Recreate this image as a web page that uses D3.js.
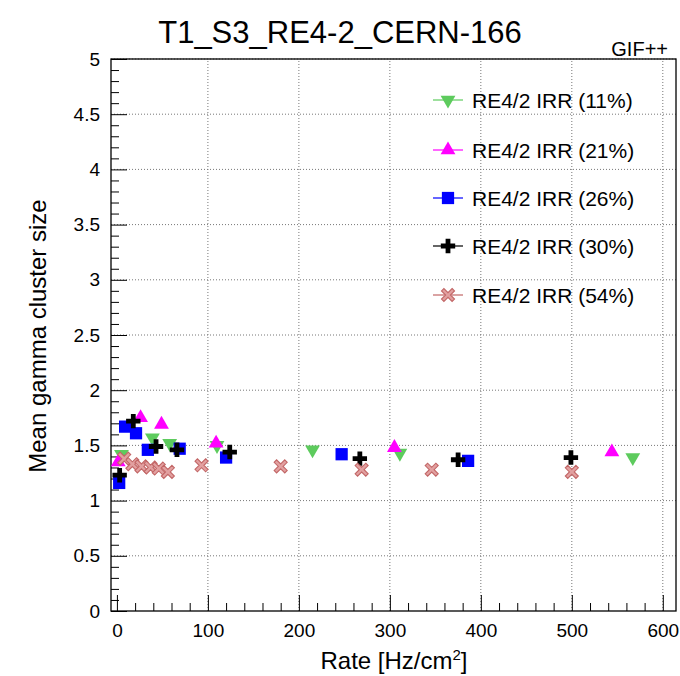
<!DOCTYPE html>
<html>
<head>
<meta charset="utf-8">
<script src="https://cdn.jsdelivr.net/npm/d3@7"></script>
<style>
  body { margin: 0; background: #fff; }
  svg text { font-family: "Liberation Sans", Arial, sans-serif; fill: #000; }
</style>
</head>
<body>
<div id="chart"></div>
<script>
// Valeurs : taux [Hz/cm2] et taille moyenne des clusters
let irr11X = [5, 39, 58, 110, 215, 311, 567];
let irr11Y = [1.42, 1.57, 1.52, 1.50, 1.46, 1.43, 1.39];

let irr21X = [1.5, 26, 49, 109, 305, 544];
let irr21Y = [1.35, 1.75, 1.69, 1.52, 1.48, 1.44];

let irr26X = [2.5, 9, 21, 34, 69, 120, 247, 386];
let irr26Y = [1.16, 1.67, 1.61, 1.46, 1.47, 1.39, 1.42, 1.36];

let irr30X = [3, 18, 43, 66, 124, 267, 375, 499];
let irr30Y = [1.23, 1.72, 1.49, 1.46, 1.44, 1.38, 1.37, 1.39];

let irr54X = [8, 17, 27, 37, 46, 56, 93, 180, 269, 346, 500];
let irr54Y = [1.38, 1.33, 1.31, 1.30, 1.29, 1.26, 1.32, 1.31, 1.28, 1.28, 1.26];

let seriesNames = ["RE4/2 IRR (11%)", "RE4/2 IRR (21%)", "RE4/2 IRR (26%)",
                   "RE4/2 IRR (30%)", "RE4/2 IRR (54%)"];

let xTicks = [0, 100, 200, 300, 400, 500, 600];
let yTicks = [0, 0.5, 1, 1.5, 2, 2.5, 3, 3.5, 4, 4.5, 5];

let series = [
  {name: seriesNames[0], xs: irr11X, ys: irr11Y, kind: "down", color: "#5dcb5d"},
  {name: seriesNames[1], xs: irr21X, ys: irr21Y, kind: "up",   color: "#ff00ff"},
  {name: seriesNames[2], xs: irr26X, ys: irr26Y, kind: "sq",   color: "#0000ff"},
  {name: seriesNames[3], xs: irr30X, ys: irr30Y, kind: "plus", color: "#000000"},
  {name: seriesNames[4], xs: irr54X, ys: irr54Y, kind: "x",    color: "#c26666"}
];

let W = 680, H = 676;
let margins = {left: 111, right: 4, top: 59, bottom: 65};

let svg = d3.select("#chart").append("svg")
            .attr("width", W)
            .attr("height", H);

let xScale = d3.scaleLinear().domain([-6.5, 614.5]).range([margins.left, W - margins.right]);
let yScale = d3.scaleLinear().domain([0, 5]).range([H - margins.bottom, margins.top]);

let x0 = margins.left, x1 = W - margins.right;
let y0 = H - margins.bottom, y1 = margins.top;

// Grille en pointillés
svg.append("g").selectAll("line").data(xTicks.slice(1)).enter().append("line")
   .attr("x1", d => xScale(d)).attr("x2", d => xScale(d))
   .attr("y1", y0).attr("y2", y1)
   .attr("stroke", "#777").attr("stroke-width", 1).attr("stroke-dasharray", "1,2");
svg.append("g").selectAll("line").data(yTicks.slice(1)).enter().append("line")
   .attr("x1", x0).attr("x2", x1)
   .attr("y1", d => yScale(d)).attr("y2", d => yScale(d))
   .attr("stroke", "#777").attr("stroke-width", 1).attr("stroke-dasharray", "1,2");

// Axes (style ROOT : ticks vers l'intérieur)
let xAxis = d3.axisBottom(xScale).tickValues(d3.range(0, 601, 20))
              .tickSize(-8).tickFormat(d => xTicks.includes(d) ? d : "").tickPadding(12);
let gx = svg.append("g").attr("transform", `translate(0,${y0})`).call(xAxis);
gx.select(".domain").remove();
gx.selectAll(".tick line").filter(d => xTicks.includes(d)).attr("y2", -16);
gx.selectAll(".tick text").attr("font-size", 19).attr("dy", "0.73em")
  .attr("font-family", "Liberation Sans, Arial, sans-serif");

let yAxis = d3.axisLeft(yScale).tickValues(d3.range(0, 51).map(i => i / 10))
              .tickSize(-8).tickFormat(d => yTicks.includes(d) ? d : "").tickPadding(11);
let gy = svg.append("g").attr("transform", `translate(${x0},0)`).call(yAxis);
gy.select(".domain").remove();
gy.selectAll(".tick line").filter(d => yTicks.includes(d)).attr("x2", 16);
gy.selectAll(".tick text").attr("font-size", 19)
  .attr("font-family", "Liberation Sans, Arial, sans-serif");

// Cadre
svg.append("rect")
   .attr("x", x0).attr("y", y1)
   .attr("width", x1 - x0).attr("height", y0 - y1)
   .attr("fill", "none").attr("stroke", "#000").attr("stroke-width", 1.3);

// Marqueurs
let xPath = (() => {
  let a = 7.5, b = 1.7;
  let pts = [[-b,-a],[b,-a],[b,-b],[a,-b],[a,b],[b,b],[b,a],[-b,a],[-b,b],[-a,b],[-a,-b],[-b,-b]];
  let c = Math.SQRT1_2;
  return "M" + pts.map(p => [(p[0] - p[1]) * c, (p[0] + p[1]) * c].map(v => v.toFixed(2)).join(",")).join("L") + "Z";
})();

function drawMarker(g, kind, color) {
  if (kind === "up") {
    g.append("path").attr("d", d3.symbol(d3.symbolTriangle, 95)()).attr("fill", color);
  } else if (kind === "down") {
    g.append("path").attr("d", d3.symbol(d3.symbolTriangle, 95)())
     .attr("transform", "rotate(180)").attr("fill", color);
  } else if (kind === "sq") {
    g.append("path").attr("d", d3.symbol(d3.symbolSquare, 150)()).attr("fill", color);
  } else if (kind === "plus") {
    g.append("path").attr("d", d3.symbol(d3.symbolCross, 115)()).attr("fill", color);
  } else {
    g.append("path").attr("d", xPath).attr("fill", "#e2a0a0")
     .attr("stroke", color).attr("stroke-width", 1.1);
  }
}

series.forEach(s => {
  let pts = s.xs.map((x, i) => ({x: x, y: s.ys[i]}));
  let g = svg.append("g").attr("class", "serie");
  g.selectAll("g").data(pts).enter().append("g")
   .attr("transform", d => `translate(${xScale(d.x)},${yScale(d.y)})`)
   .each(function() { drawMarker(d3.select(this), s.kind, s.color); });
});

// Légende
let legY = [100, 150, 198, 246, 295];
series.forEach((s, i) => {
  let g = svg.append("g").attr("transform", `translate(448,${legY[i]})`);
  g.append("line").attr("x1", -15).attr("x2", 15).attr("y1", 0).attr("y2", 0)
   .attr("stroke", s.color).attr("stroke-width", 1.2);
  drawMarker(g, s.kind, s.color);
  g.append("text").attr("x", 24).attr("y", 0).attr("dy", "0.36em")
   .attr("font-size", 21).text(s.name);
});

// Titres
svg.append("text").attr("x", 340).attr("y", 43).attr("text-anchor", "middle")
   .attr("font-size", 31).text("T1_S3_RE4-2_CERN-166");

svg.append("text").attr("x", 668).attr("y", 56).attr("text-anchor", "end")
   .attr("font-size", 20).text("GIF++");

let xt = svg.append("text").attr("x", 394).attr("y", 669).attr("text-anchor", "middle")
            .attr("font-size", 24);
xt.append("tspan").text("Rate [Hz/cm");
xt.append("tspan").attr("font-size", 15).attr("dy", -9).text("2");
xt.append("tspan").attr("dy", 9).text("]");

svg.append("text").attr("transform", "translate(46,336) rotate(-90)")
   .attr("text-anchor", "middle").attr("font-size", 24)
   .text("Mean gamma cluster size");
</script>
</body>
</html>
